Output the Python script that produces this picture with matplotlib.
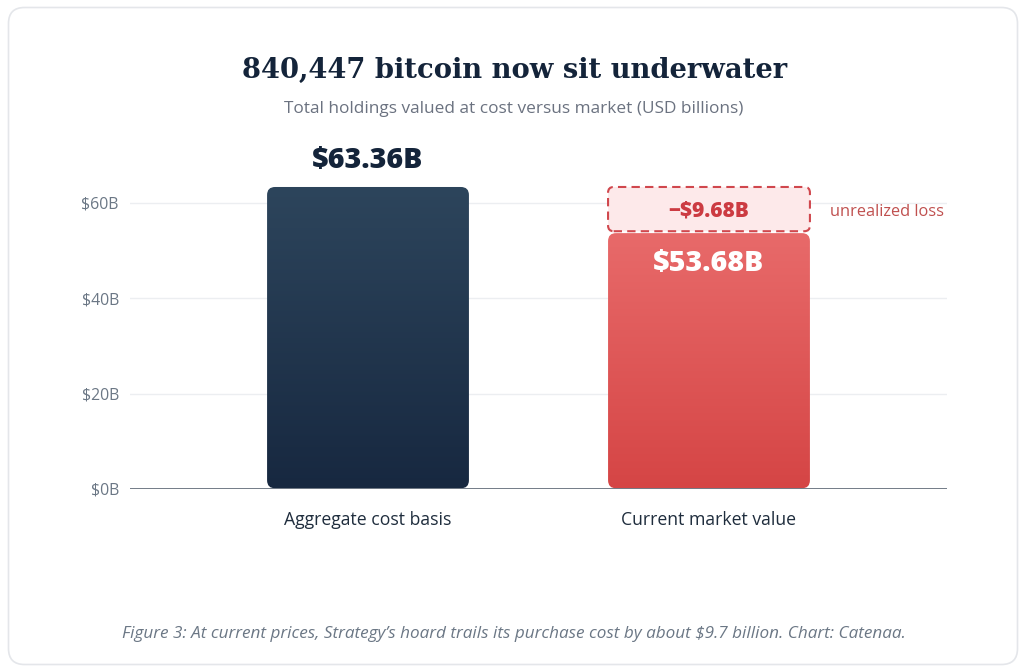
import matplotlib
matplotlib.use("Agg")
import matplotlib.pyplot as plt
import numpy as np
from matplotlib.patches import FancyBboxPatch
from matplotlib.colors import LinearSegmentedColormap

categories = ["Aggregate cost basis", "Current market value"]
values = [63.36, 53.68]
loss = values[0] - values[1]
value_labels = ["$63.36B", "$53.68B"]
loss_label = "\u2212$9.68B"
yticks = [0, 20, 40, 60]
ytick_labels = ["$0B", "$20B", "$40B", "$60B"]
title = "840,447 bitcoin now sit underwater"
subtitle = "Total holdings valued at cost versus market (USD billions)"
caption = "Figure 3: At current prices, Strategy\u2019s hoard trails its purchase cost by about $9.7 billion. Chart: Catenaa."

W, H = 1024, 671
fig = plt.figure(figsize=(W / 100, H / 100), dpi=100)
fig.patch.set_facecolor("white")

# card
card = FancyBboxPatch((8.5, 6.5), 1009, 657, boxstyle="round,pad=0,rounding_size=16",
                      transform=None, facecolor="white", edgecolor="#e4e6ea", linewidth=1.2, zorder=-10)
fig.patches.append(card)

ax = fig.add_axes([130 / W, 182 / H, 817 / W, 314.6 / H])
ax.set_zorder(1)
for s in ax.spines.values():
    s.set_visible(False)
ax.set_facecolor("none")

ax.set_yticks(yticks)
ax.set_yticklabels(ytick_labels, fontsize=11.4, color="#6b7785", family="Open Sans")
ax.tick_params(axis="y", length=0, pad=8)
ax.set_xticks([0, 1])
ax.set_xticklabels(categories, fontsize=12.7, color="#1f2d3d", family="Open Sans")
ax.tick_params(axis="x", length=0, pad=16)
for t in yticks[1:]:
    ax.axhline(t, color="#eceef1", linewidth=1, zorder=1)
ax.axhline(0, color="#66707c", linewidth=2, zorder=5)

bw = 0.592
px_x = 341.0
px_y = 314.6 / 66
aspect = px_x / px_y
r = 8 / px_x

cmaps = [LinearSegmentedColormap.from_list("navy", ["#172840", "#2d455c"]),
         LinearSegmentedColormap.from_list("red", ["#d54545", "#e86a6a"])]

grad = np.linspace(0, 1, 256).reshape(-1, 1)
for i, v in enumerate(values):
    x0 = i - bw / 2
    patch = FancyBboxPatch((x0, 0.15), bw, v - 0.15,
                           boxstyle=f"round,pad=0,rounding_size={r}",
                           mutation_aspect=aspect, facecolor="none", edgecolor="none", zorder=3)
    ax.add_patch(patch)
    im = ax.imshow(grad, cmap=cmaps[i], aspect="auto", extent=(x0, x0 + bw, 0, v),
                   origin="lower", zorder=3, interpolation="bicubic")
    im.set_clip_path(patch)
ax.set_xlim(-0.698, 1.698)
ax.set_ylim(0, 66)

# value labels
ax.text(0, values[0] + 5.6, value_labels[0], ha="center", va="center", fontsize=20.5,
        fontweight="heavy", color="#14243a", family="Open Sans", zorder=6)
ax.text(1, values[1] - 6.4, value_labels[1], ha="center", va="center", fontsize=20.5,
        fontweight="heavy", color="white", family="Open Sans", zorder=6)

# loss box
lb = FancyBboxPatch((1 - bw / 2, values[1] + 0.4), bw, loss - 0.4,
                    boxstyle=f"round,pad=0,rounding_size={r * 0.7}", mutation_aspect=aspect,
                    facecolor="#fde9ea", edgecolor="#d0474d", linewidth=1.5,
                    linestyle=(0, (4, 2.5)), zorder=4)
ax.add_patch(lb)
ax.text(1, values[1] + loss / 2 - 0.3, loss_label, ha="center", va="center", fontsize=15,
        fontweight="heavy", color="#cc3b42", family="Open Sans", zorder=6)
ax.text(1 + bw / 2 + 0.06, values[1] + loss / 2 - 0.5, "unrealized loss", ha="left", va="center",
        fontsize=11.8, color="#c0504f", family="Open Sans", zorder=6)

fig.text(515 / W, 1 - 70 / H, title, ha="center", va="center", fontsize=19.7,
         fontweight="bold", color="#14243a", family="DejaVu Serif")
fig.text(514 / W, 1 - 109 / H, subtitle, ha="center", va="center", fontsize=12.4,
         color="#6b7280", family="Open Sans")
fig.text(514 / W, 1 - 634 / H, caption, ha="center", va="center", fontsize=12.3,
         style="italic", color="#6b7785", family="Open Sans")

fig.savefig("out.png", dpi=100, facecolor="white")
